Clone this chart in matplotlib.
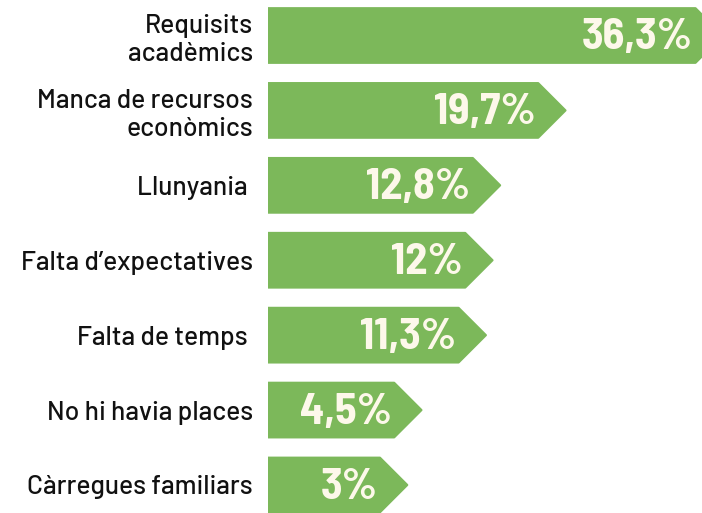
import matplotlib
matplotlib.use("Agg")
import matplotlib.pyplot as plt
from matplotlib import font_manager
from matplotlib.patches import Polygon

categories = [
    "Requisits\nacadèmics",
    "Manca de recursos\neconòmics",
    "Llunyania ",
    "Falta d\u2019expectatives",
    "Falta de temps ",
    "No hi havia places",
    "Càrregues familiars",
]
values = [36.3, 19.7, 12.8, 12.0, 11.3, 4.5, 3.0]
value_labels = ["36,3%", "19,7%", "12,8%", "12%", "11,3%", "4,5%", "3%"]

GREEN = "#7cb85a"
CREAM = "#fdf8ea"
BASE = 11.7          # visual offset added to every bar (data units)
BAR_H = 0.73

names = {f.name for f in font_manager.fontManager.ttflist}


def pick(cands):
    for c in cands:
        if c in names:
            return c
    return "DejaVu Sans"


num_font = pick(["Barlow Semi Condensed", "Roboto Condensed", "DejaVu Sans Condensed", "Roboto"])
lab_font = pick(["Barlow", "Roboto", "DejaVu Sans"])

fig = plt.figure(figsize=(7.02, 5.13), dpi=100)
ax = fig.add_axes([268 / 702, 0, 1 - 268 / 702, 1])
ax.set_xlim(0, 45.8)
ax.set_ylim(len(values) - 1 + 0.374, -0.474)

fig.canvas.draw()
px_per_x = ax.transData.transform((1, 0))[0] - ax.transData.transform((0, 0))[0]
px_per_y = abs(ax.transData.transform((0, 0))[1] - ax.transData.transform((0, 1))[1])
depth = (BAR_H / 2) * px_per_y / px_per_x

for i, (v, lab) in enumerate(zip(values, value_labels)):
    tip = v + BASE
    top, bot = i - BAR_H / 2, i + BAR_H / 2
    pts = [(0, top), (tip - depth, top), (tip, i), (tip - depth, bot), (0, bot)]
    ax.add_patch(Polygon(pts, closed=True, facecolor=GREEN, edgecolor=GREEN,
                         linewidth=1.5, joinstyle="round"))
    ax.text(tip - 30 / px_per_x, i + 0.03, lab, ha="right", va="center",
            color=CREAM, fontsize=32, fontweight="bold", family=num_font)

ax.set_yticks(range(len(categories)))
ax.set_yticklabels(categories, fontsize=19, linespacing=1.2, color="#111111",
                   family=lab_font, fontweight="medium")
ax.tick_params(axis="y", length=0, pad=11)
ax.set_xticks([])
for s in ax.spines.values():
    s.set_visible(False)

fig.savefig("out.png", dpi=100)
